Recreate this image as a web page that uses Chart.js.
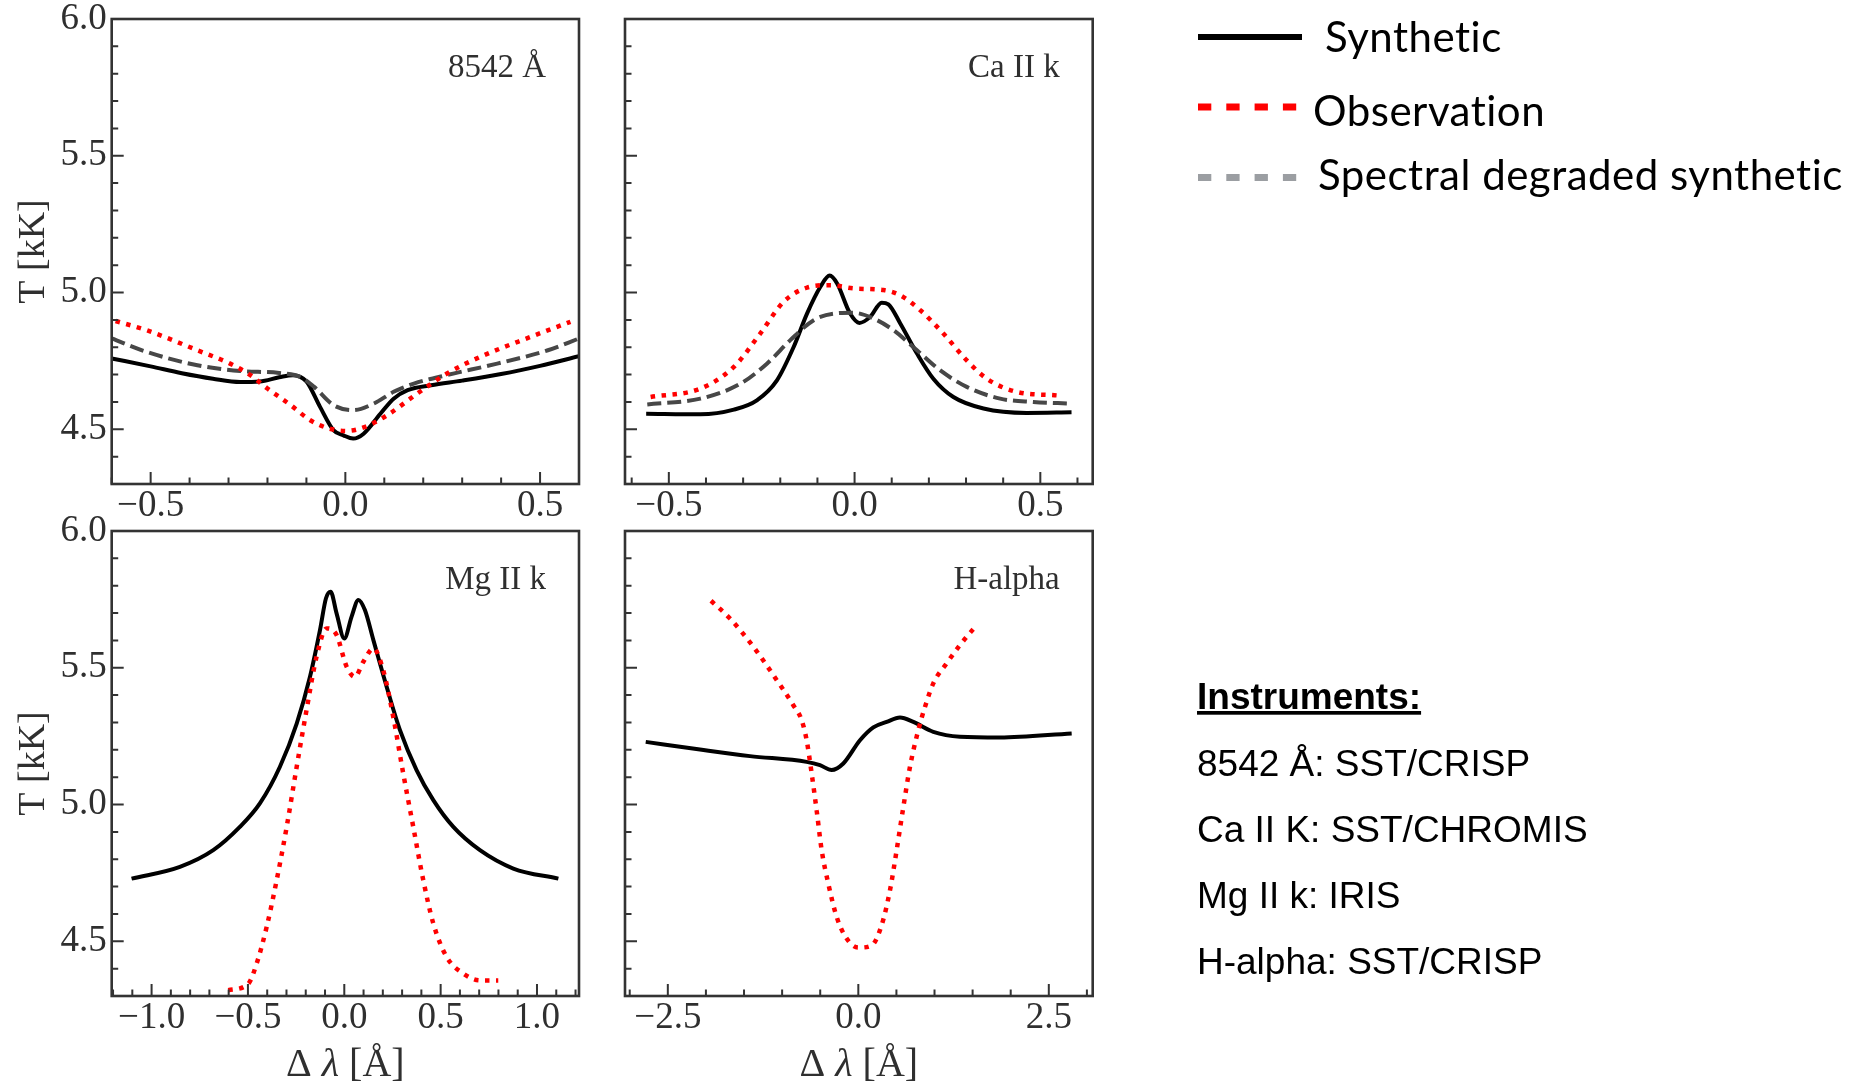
<!DOCTYPE html>
<html>
<head>
<meta charset="utf-8">
<title>Synthetic vs observed line-core temperatures</title>
<script src="https://cdn.jsdelivr.net/npm/chart.js"></script>
<style>
  html, body { margin: 0; padding: 0; background: #fff; }
  #fig { position: relative; width: 1866px; height: 1084px; overflow: hidden; background: #fff; }
  #fig canvas { position: absolute; }
  #fig svg { position: absolute; left: 0; top: 0; }
</style>
</head>
<body>
<div id="fig">
  <canvas id="pIrt" width="600" height="530" style="left:0;top:0"></canvas>
  <canvas id="pCak" width="520" height="530" style="left:600px;top:0"></canvas>
  <canvas id="pMgk" width="600" height="584" style="left:0;top:500px"></canvas>
  <canvas id="pHa"  width="520" height="584" style="left:600px;top:500px"></canvas>

  <svg width="1866" height="1084" xmlns="http://www.w3.org/2000/svg">
    <g id="legend">
      <line x1="1198" y1="37" x2="1302" y2="37" stroke="#000" stroke-width="6"/>
      <line x1="1198" y1="107" x2="1298" y2="107" stroke="#ff0000" stroke-width="7" stroke-dasharray="13.3 15"/>
      <line x1="1198" y1="177.5" x2="1298" y2="177.5" stroke="#9b9ea2" stroke-width="7" stroke-dasharray="13.3 15"/>
      <g font-family="Lato, 'Open Sans', sans-serif" font-size="42" letter-spacing="0.5" fill="#000">
        <text x="1325" y="52">Synthetic</text>
        <text x="1313" y="126">Observation</text>
        <text x="1318" y="190">Spectral degraded synthetic</text>
      </g>
    </g>
    <g id="instruments" font-family="'Liberation Sans', Arial, sans-serif" font-size="37" fill="#000">
      <text x="1197" y="709" font-weight="bold" text-decoration="underline">Instruments:</text>
      <text x="1197" y="776">8542 Å: SST/CRISP</text>
      <text x="1197" y="842">Ca II K: SST/CHROMIS</text>
      <text x="1197" y="908">Mg II k: IRIS</text>
      <text x="1197" y="974">H-alpha: SST/CRISP</text>
    </g>
  </svg>
</div>

<script>
// ---- Ca II 8542 Å : wavelength offset [Å] and temperature [kK] ----
const irtSynX = [-0.6, -0.5, -0.42, -0.34, -0.27, -0.22, -0.17, -0.135, -0.10, -0.065, -0.03, -0.005, 0.02, 0.047, 0.09, 0.124, 0.16, 0.22, 0.3, 0.4, 0.5, 0.6];
const irtSynT = [4.759, 4.730, 4.705, 4.685, 4.673, 4.675, 4.690, 4.698, 4.675, 4.582, 4.496, 4.478, 4.466, 4.484, 4.557, 4.612, 4.643, 4.661, 4.678, 4.702, 4.732, 4.767];
const irtDegX = [-0.6, -0.51, -0.38, -0.27, -0.17, -0.115, -0.08, -0.03, 0.02, 0.073, 0.124, 0.176, 0.26, 0.39, 0.52, 0.6];
const irtDegT = [4.832, 4.783, 4.734, 4.713, 4.706, 4.691, 4.655, 4.588, 4.570, 4.594, 4.637, 4.667, 4.698, 4.740, 4.789, 4.832];
const irtObsX = [-0.59, -0.51, -0.38, -0.296, -0.244, -0.2, -0.14, -0.09, -0.04, 0.004, 0.051, 0.107, 0.184, 0.261, 0.347, 0.476, 0.578];
const irtObsT = [4.896, 4.862, 4.789, 4.740, 4.698, 4.649, 4.588, 4.533, 4.502, 4.494, 4.509, 4.551, 4.630, 4.704, 4.765, 4.838, 4.893];

// ---- Ca II K ----
const cakSynX = [-0.561, -0.415, -0.325, -0.263, -0.209, -0.164, -0.128, -0.092, -0.067, -0.047, -0.012, 0.013, 0.042, 0.073, 0.091, 0.123, 0.168, 0.212, 0.266, 0.347, 0.463, 0.584];
const cakSynT = [4.557, 4.555, 4.572, 4.606, 4.679, 4.801, 4.923, 5.021, 5.062, 5.033, 4.923, 4.889, 4.911, 4.963, 4.957, 4.887, 4.777, 4.685, 4.618, 4.576, 4.560, 4.562];
const cakDegX = [-0.558, -0.415, -0.307, -0.236, -0.173, -0.11, -0.056, -0.003, 0.051, 0.105, 0.168, 0.23, 0.302, 0.392, 0.481, 0.58];
const cakDegT = [4.591, 4.612, 4.667, 4.740, 4.826, 4.899, 4.923, 4.926, 4.905, 4.862, 4.789, 4.716, 4.655, 4.612, 4.600, 4.594];
const cakObsX = [-0.549, -0.415, -0.325, -0.254, -0.191, -0.128, -0.065, -0.003, 0.078, 0.123, 0.177, 0.239, 0.302, 0.356, 0.436, 0.544];
const cakObsT = [4.618, 4.649, 4.728, 4.850, 4.966, 5.018, 5.027, 5.015, 5.009, 4.990, 4.935, 4.850, 4.752, 4.685, 4.637, 4.624];

// ---- Mg II k ----
const mgkSynX = [-1.104, -0.853, -0.68, -0.542, -0.438, -0.334, -0.247, -0.178, -0.126, -0.095, -0.071, -0.04, 0.0, 0.038, 0.073, 0.107, 0.151, 0.22, 0.289, 0.375, 0.462, 0.566, 0.704, 0.877, 1.111];
const mgkSynT = [4.729, 4.772, 4.833, 4.918, 5.004, 5.138, 5.296, 5.467, 5.638, 5.754, 5.778, 5.699, 5.607, 5.687, 5.748, 5.711, 5.601, 5.430, 5.272, 5.126, 5.016, 4.918, 4.833, 4.766, 4.729];
const mgkObsX = [-0.602, -0.498, -0.455, -0.403, -0.351, -0.299, -0.247, -0.196, -0.144, -0.092, -0.04, 0.012, 0.055, 0.099, 0.151, 0.202, 0.254, 0.306, 0.358, 0.41, 0.462, 0.531, 0.618, 0.704, 0.799];
const mgkObsT = [4.321, 4.345, 4.418, 4.552, 4.723, 4.918, 5.138, 5.345, 5.540, 5.644, 5.620, 5.504, 5.467, 5.522, 5.571, 5.491, 5.321, 5.113, 4.918, 4.723, 4.565, 4.443, 4.382, 4.357, 4.357];

// ---- H-alpha ----
const haSynX = [-2.79, -2.078, -1.422, -0.678, -0.503, -0.35, -0.197, 0.022, 0.197, 0.372, 0.547, 0.722, 0.984, 1.334, 1.859, 2.80];
const haSynT = [5.229, 5.201, 5.177, 5.156, 5.144, 5.126, 5.150, 5.235, 5.282, 5.302, 5.318, 5.302, 5.266, 5.248, 5.245, 5.260];
const haObsX = [-1.933, -1.684, -1.378, -1.115, -0.853, -0.744, -0.678, -0.612, -0.547, -0.481, -0.394, -0.284, -0.153, 0.0, 0.175, 0.306, 0.416, 0.503, 0.591, 0.678, 0.787, 0.875, 0.984, 1.159, 1.334, 1.54];
const haObsT = [5.745, 5.680, 5.577, 5.473, 5.363, 5.309, 5.235, 5.113, 4.979, 4.833, 4.711, 4.589, 4.510, 4.477, 4.485, 4.559, 4.687, 4.833, 4.991, 5.138, 5.272, 5.357, 5.443, 5.516, 5.583, 5.652];

// ---- tick labels and panel names ----
const tempTicks   = [4.5, 5.0, 5.5, 6.0];
const narrowTicks = [-0.5, 0.0, 0.5];
const mgkTicks    = [-1.0, -0.5, 0.0, 0.5, 1.0];
const haTicks     = [-2.5, 0.0, 2.5];
const panelNames  = ['8542 Å', 'Ca II k', 'Mg II k', 'H-alpha'];

const INK = '#2f2f2f';
const SERIF = "'Liberation Serif', 'DejaVu Serif', serif";

const synStyle = { borderColor: '#000000', borderWidth: 4 };
const degStyle = { borderColor: '#474747', borderWidth: 4, borderDash: [14, 6] };
const obsStyle = { borderColor: '#ff0000', borderWidth: 4.5, borderDash: [4.5, 6.5] };

const fmt = v => (v < 0 ? '\u2212' : '') + Math.abs(v).toFixed(1);

function stepsIn(min, max, step) {
  const out = [];
  for (let k = Math.ceil(min / step - 1e-9); k * step <= max + 1e-9; k++) out.push(k * step);
  return out;
}
function isMultiple(v, step) {
  const r = v / step;
  return Math.abs(r - Math.round(r)) < 1e-6;
}

// Box frame, inward ticks, panel name and the Δλ axis label
const framePlugin = {
  id: 'frame',
  afterDraw(chart, args, o) {
    const { ctx, chartArea: a } = chart;
    const xs = chart.scales.x, ys = chart.scales.y;
    ctx.save();
    ctx.strokeStyle = '#333';
    ctx.lineWidth = 2;
    ctx.beginPath();
    stepsIn(xs.min, xs.max, o.xMinor).forEach(v => {
      const len = isMultiple(v, o.xMajor) ? 12 : 6.5;
      const px = xs.getPixelForValue(v);
      ctx.moveTo(px, a.bottom); ctx.lineTo(px, a.bottom - len);
    });
    stepsIn(ys.min, ys.max, 0.1).forEach(v => {
      const len = isMultiple(v, 0.5) ? 12 : 6.5;
      const py = ys.getPixelForValue(v);
      ctx.moveTo(a.left, py); ctx.lineTo(a.left + len, py);
    });
    ctx.stroke();
    ctx.lineWidth = 2.6;
    ctx.strokeRect(a.left, a.top, a.right - a.left, a.bottom - a.top);

    ctx.fillStyle = INK;
    ctx.font = '33px ' + SERIF;
    ctx.textAlign = 'right';
    ctx.textBaseline = 'alphabetic';
    ctx.fillText(o.name, a.right - 33, a.top + 58);

    if (o.xTitle) {
      const parts = [
        { t: 'Δ ', f: '40px ' + SERIF },
        { t: 'λ', f: 'italic 40px ' + SERIF },
        { t: ' [Å]', f: '40px ' + SERIF }
      ];
      let total = 0;
      parts.forEach(p => { ctx.font = p.f; p.w = ctx.measureText(p.t).width; total += p.w; });
      let x = (a.left + a.right) / 2 - total / 2;
      const y = a.bottom + 80;
      ctx.textAlign = 'left';
      parts.forEach(p => { ctx.font = p.f; ctx.fillText(p.t, x, y); x += p.w; });
    }
    ctx.restore();
  }
};

function panel(id, c) {
  const series = c.series.map(s => ({
    data: s.xs.map((x, i) => ({ x: x, y: s.ys[i] })),
    ...s.style,
    pointRadius: 0,
    fill: false,
    cubicInterpolationMode: 'monotone'
  }));
  return new Chart(document.getElementById(id), {
    type: 'line',
    data: { datasets: series },
    options: {
      responsive: false,
      animation: false,
      events: [],
      layout: { padding: c.pad },
      plugins: {
        legend: { display: false },
        tooltip: { enabled: false },
        frame: { name: c.name, xMinor: c.xMinor, xMajor: c.xMajor, xTitle: c.xTitle }
      },
      scales: {
        x: {
          type: 'linear', min: c.xMin, max: c.xMax,
          grid: { display: false, drawTicks: false },
          border: { display: false },
          ticks: { autoSkip: false, maxRotation: 0, padding: 0, color: INK,
                   font: { family: SERIF, size: 37 }, callback: fmt },
          afterBuildTicks: s => { s.ticks = c.xTicks.map(v => ({ value: v })); },
          afterFit: s => { s.height = c.xAxisH; s.paddingLeft = 0; s.paddingRight = 0; }
        },
        y: {
          type: 'linear', min: 4.3, max: 6.0,
          grid: { display: false, drawTicks: false },
          border: { display: false },
          ticks: { display: c.yLabels, autoSkip: false, padding: 5, color: INK,
                   font: { family: SERIF, size: 37 }, callback: fmt },
          title: { display: c.yLabels, text: 'T [kK]', color: INK,
                   font: { family: SERIF, size: 38 }, padding: { top: 11, bottom: 0 } },
          afterBuildTicks: s => { s.ticks = tempTicks.map(v => ({ value: v })); },
          afterFit: s => { s.width = c.yAxisW; s.paddingTop = 0; s.paddingBottom = 0; }
        }
      }
    },
    plugins: [framePlugin]
  });
}

panel('pIrt', {
  name: panelNames[0], xMin: -0.6, xMax: 0.6, xTicks: narrowTicks, xMinor: 0.1, xMajor: 0.5,
  pad: { left: 0, top: 19, right: 21, bottom: 0 }, yAxisW: 111.7, xAxisH: 46, yLabels: true, xTitle: false,
  series: [
    { xs: irtObsX, ys: irtObsT, style: obsStyle },
    { xs: irtDegX, ys: irtDegT, style: degStyle },
    { xs: irtSynX, ys: irtSynT, style: synStyle }
  ]
});

panel('pCak', {
  name: panelNames[1], xMin: -0.618, xMax: 0.641, xTicks: narrowTicks, xMinor: 0.1, xMajor: 0.5,
  pad: { left: 0, top: 19, right: 27.3, bottom: 0 }, yAxisW: 25, xAxisH: 46, yLabels: false, xTitle: false,
  series: [
    { xs: cakObsX, ys: cakObsT, style: obsStyle },
    { xs: cakDegX, ys: cakDegT, style: degStyle },
    { xs: cakSynX, ys: cakSynT, style: synStyle }
  ]
});

panel('pMgk', {
  name: panelNames[2], xMin: -1.207, xMax: 1.218, xTicks: mgkTicks, xMinor: 0.1, xMajor: 0.5,
  pad: { left: 0, top: 31, right: 21, bottom: 0 }, yAxisW: 111.7, xAxisH: 88, yLabels: true, xTitle: true,
  series: [
    { xs: mgkObsX, ys: mgkObsT, style: obsStyle },
    { xs: mgkSynX, ys: mgkSynT, style: synStyle }
  ]
});

panel('pHa', {
  name: panelNames[3], xMin: -3.062, xMax: 3.076, xTicks: haTicks, xMinor: 0.5, xMajor: 2.5,
  pad: { left: 0, top: 31, right: 27.3, bottom: 0 }, yAxisW: 25, xAxisH: 88, yLabels: false, xTitle: true,
  series: [
    { xs: haObsX, ys: haObsT, style: obsStyle },
    { xs: haSynX, ys: haSynT, style: synStyle }
  ]
});
</script>
</body>
</html>
